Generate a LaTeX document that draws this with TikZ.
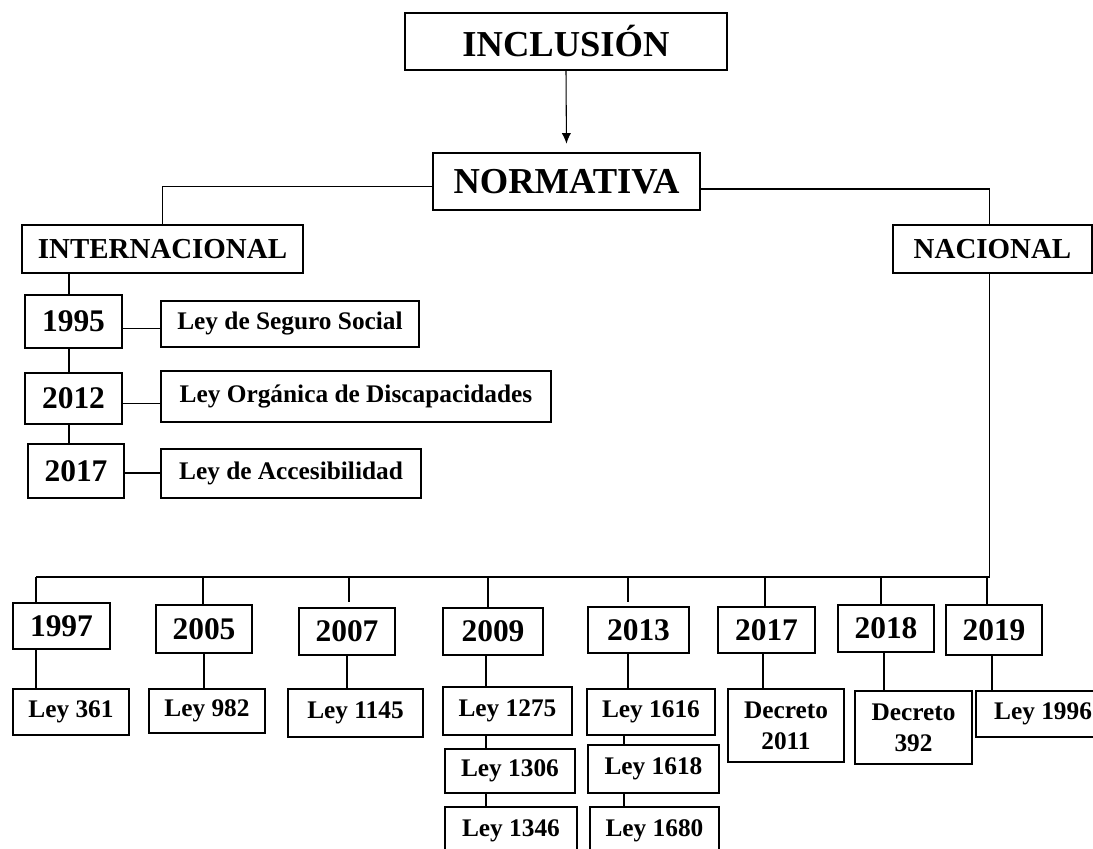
\documentclass[tikz,border=0pt]{standalone}
\usepackage{fontspec}
\setmainfont{Liberation Serif}
\usetikzlibrary{calc,arrows.meta}
\newcommand\ftitle{\fontsize{27.4}{32}\selectfont\bfseries}
\newcommand\fsec{\fontsize{21.7}{26}\selectfont\bfseries}
\newcommand\fyear{\fontsize{23.6}{28}\selectfont\bfseries}
\newcommand\flaw{\fontsize{19}{23.25}\selectfont\bfseries}
\newcommand\bx[7]{\node[box,font=#6,minimum width={(#4-#2)*0.75pt},minimum height={(#5-#3)*0.75pt}] (#1) at ({(#2+#4)/2},{(#3+#5)/2}) {#7};}
\begin{document}
\begin{tikzpicture}[x=0.75pt,y=-0.75pt,
  box/.style={draw,line width=0.9pt,inner sep=0pt,align=center},
  conn/.style={line width=0.8pt}]
\clip (0,0) rectangle (1093,849);
\fill[white] (0,0) rectangle (1093,849);
% top
\bx{incl}{405}{13}{727}{70}{\ftitle}{INCLUSIÓN}
\bx{norm}{433}{153}{700}{210}{\ftitle}{NORMATIVA}
\bx{inter}{22}{225}{303}{273}{\fsec}{INTERNACIONAL}
\bx{nac}{893}{225}{1092}{273}{\fsec}{NACIONAL}
% international
\bx{i95}{25}{295}{122}{348}{\fyear}{1995}
\bx{l95}{161}{301}{419}{347}{\flaw}{Ley de Seguro Social}
\bx{i12}{25}{373}{122}{424}{\fyear}{2012}
\bx{l12}{161}{371}{551}{422}{\flaw}{Ley Orgánica de Discapacidades}
\bx{i17}{28}{444}{124}{498}{\fyear}{2017}
\bx{l17}{161}{449}{421}{498}{\flaw}{Ley de Accesibilidad}
% national years
\bx{n97}{13}{603}{110}{649}{\fyear}{1997}
\bx{n05}{156}{605}{252}{653}{\fyear}{2005}
\bx{n07}{299}{608}{395}{655}{\fyear}{2007}
\bx{n09}{443}{608}{543}{655}{\fyear}{2009}
\bx{n13}{588}{607}{689}{653}{\fyear}{2013}
\bx{n17}{718}{607}{815}{653}{\fyear}{2017}
\bx{n18}{838}{605}{934}{652}{\fyear}{2018}
\bx{n19}{946}{605}{1042}{655}{\fyear}{2019}
% national laws
\bx{law361}{13}{689}{129}{735}{\flaw}{Ley 361}
\bx{law982}{149}{689}{265}{733}{\flaw}{Ley 982}
\bx{law1145}{288}{689}{423}{737}{\flaw}{Ley 1145}
\bx{law1275}{443}{687}{572}{735}{\flaw}{Ley 1275}
\bx{law1306}{445}{749}{575}{793}{\flaw}{Ley 1306}
\bx{law1346}{445}{807}{577}{855}{\flaw}{Ley 1346}
\bx{law1616}{587}{689}{715}{735}{\flaw}{Ley 1616}
\bx{law1618}{588}{745}{719}{793}{\flaw}{Ley 1618}
\bx{law1680}{590}{807}{719}{855}{\flaw}{Ley 1680}
\bx{dec2011}{728}{689}{844}{762}{\flaw}{Decreto\\2011}
\bx{dec392}{855}{691}{972}{764}{\flaw}{Decreto\\392}
\bx{law1996}{976}{691}{1110}{737}{\flaw}{Ley 1996}
% connectors top
\draw[conn,-{Latex[length=8pt,width=7pt]},shorten >=6.5pt] (incl.south) -- (norm.north);
\draw[conn] ([yshift=-3.4pt]norm.west) -| (inter.north);
\draw[conn] ([yshift=-5.6pt]norm.east) -| ([xshift=-2.6pt]nac.north);
% international chain
\coordinate (ix) at (69,0);
\draw[conn] (inter.south -| ix) -- (i95.north -| ix);
\draw[conn] (i95.south -| ix) -- (i12.north -| ix);
\draw[conn] (i12.south -| ix) -- (i17.north -| ix);
\draw[conn] ([yshift=-4.9pt]i95.east) -- ([yshift=-4.9pt]i95.east -| l95.west);
\draw[conn] ([yshift=-3.4pt]i12.east) -- ([yshift=-3.4pt]i12.east -| l12.west);
\draw[conn] ([yshift=-1.5pt]i17.east) -- ([yshift=-1.5pt]i17.east -| l17.west);
% national bus
\coordinate (b97) at (36,577);
\coordinate (b05) at (203,577);
\coordinate (b07) at (349,577);
\coordinate (b09) at (488,577);
\coordinate (b13) at (628,577);
\coordinate (b17) at (765,577);
\coordinate (b18) at (881,577);
\coordinate (b19) at (987,577);
\draw[conn] ([xshift=-2.6pt]nac.south) |- (b97);
\draw[conn] (b97) -- (b97 |- n97.north);
\draw[conn] (b05) -- (b05 |- n05.north);
\draw[conn,shorten >=3.75pt] (b07) -- (b07 |- n07.north);
\draw[conn] (b09) -- (b09 |- n09.north);
\draw[conn,shorten >=3pt] (b13) -- (b13 |- n13.north);
\draw[conn] (b17) -- (b17 |- n17.north);
\draw[conn] (b18) -- (b18 |- n18.north);
\draw[conn] (b19) -- (b19 |- n19.north);
% year to law
\coordinate (d97) at (36,0);
\coordinate (d05) at (204,0);
\coordinate (d07) at (347,0);
\coordinate (d09) at (486,0);
\coordinate (d13) at (628,0);
\coordinate (e13) at (624,0);
\coordinate (d17) at (763,0);
\coordinate (d18) at (884,0);
\coordinate (d19) at (992,0);
\draw[conn] (n97.south -| d97) -- (law361.north -| d97);
\draw[conn] (n05.south -| d05) -- (law982.north -| d05);
\draw[conn] (n07.south -| d07) -- (law1145.north -| d07);
\draw[conn] (n09.south -| d09) -- (law1275.north -| d09);
\draw[conn] (law1275.south -| d09) -- (law1306.north -| d09);
\draw[conn] (law1306.south -| d09) -- (law1346.north -| d09);
\draw[conn] (n13.south -| d13) -- (law1616.north -| d13);
\draw[conn] (law1616.south -| e13) -- (law1618.north -| e13);
\draw[conn] (law1618.south -| e13) -- (law1680.north -| e13);
\draw[conn] (n17.south -| d17) -- (dec2011.north -| d17);
\draw[conn] (n18.south -| d18) -- (dec392.north -| d18);
\draw[conn] (n19.south -| d19) -- (law1996.north -| d19);
\end{tikzpicture}
\end{document}
